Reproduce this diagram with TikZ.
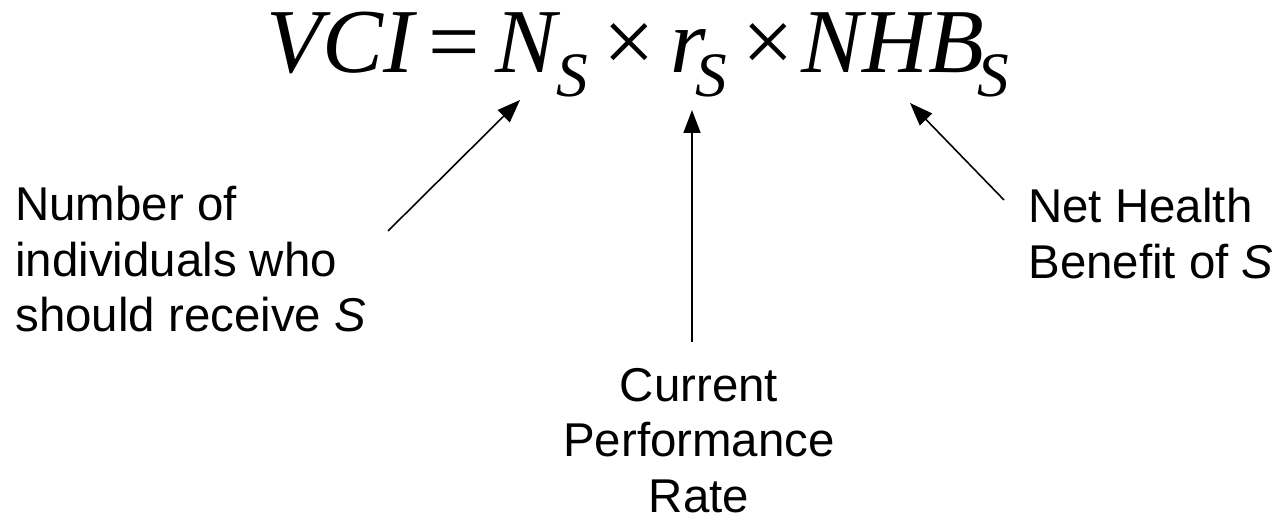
\documentclass[tikz,border=0pt]{standalone}
\usepackage{fontspec}
\setmainfont{Liberation Sans}
\newfontfamily\eqfont{Liberation Serif}
\usetikzlibrary{arrows.meta}

\newcommand{\subS}{\raisebox{-0.26em}{\fontsize{36}{36}\selectfont S}}

\begin{document}
\begin{tikzpicture}[
    x=0.02cm, y=-0.02cm,
    lbl/.style={inner sep=0pt, font=\fontsize{27}{31.6}\selectfont},
    arr/.style={-{Triangle[length=0.46cm, width=0.34cm]}, line width=0.9pt}
  ]
  \useasboundingbox (0,0) rectangle (1282,520);

  % The equation
  \node[inner sep=0pt, anchor=base west] (eq) at (266,73)
    {\eqfont\fontsize{52}{52}\selectfont\itshape
     VCI\,{\upshape =}\,N\subS\,{\upshape ×}\,r\kern-5.5pt\subS\,{\upshape ×}\kern4pt
     NHB\kern-4pt\subS};

  % Labels
  \node[lbl, anchor=north west, align=left] (num) at (15,186)
    {Number of\\individuals who\\should receive \textit{S}};
  \node[lbl, anchor=north, align=center] (rate) at (699,368)
    {Current\\Performance\\Rate};
  \node[lbl, anchor=north west, align=left] (nhb) at (1028,188)
    {Net Health\\Benefit of \textit{S}};

  % Arrow ends
  \coordinate (tipN) at (520,100);
  \coordinate (tipR) at (692,110);
  \coordinate (tipB) at (910,103);
  \coordinate (tailN) at (388,231);
  \coordinate (tailR) at (692,342);
  \coordinate (tailB) at (1004,200);

  \draw[arr] (tailN) -- (tipN);
  \draw[arr] (tailR) -- (tipR);
  \draw[arr] (tailB) -- (tipB);
\end{tikzpicture}
\end{document}
